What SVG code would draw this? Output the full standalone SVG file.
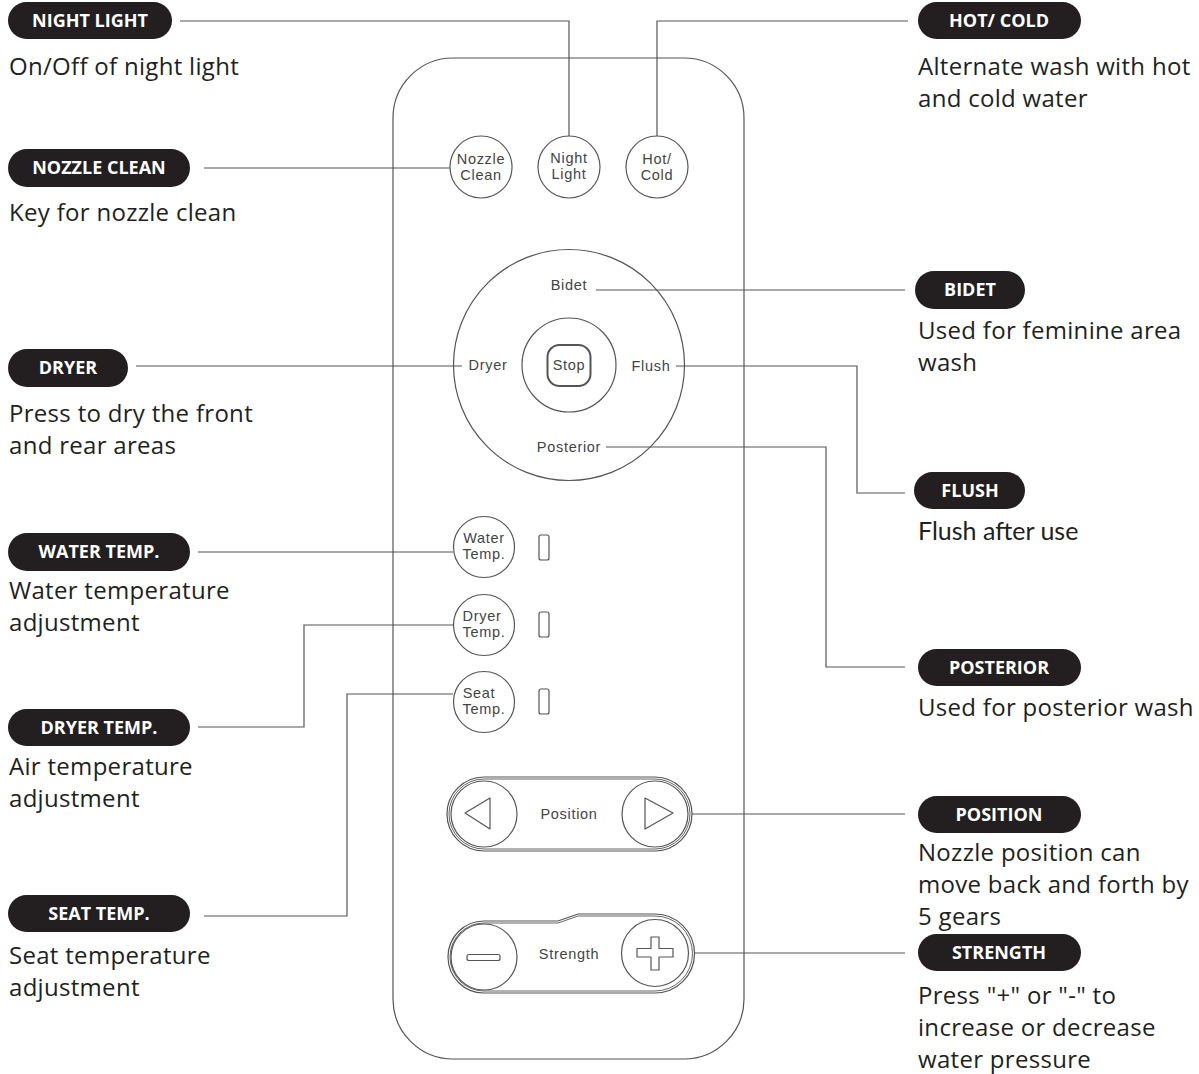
<svg xmlns="http://www.w3.org/2000/svg" width="1199" height="1074" viewBox="0 0 1199 1074">
<style>
.pill{fill:#231f20}
.lbl{font-family:"Open Sans","Liberation Sans",sans-serif;font-weight:bold;font-size:18px;fill:#fff;text-anchor:middle}
.desc{font-family:"Open Sans","Liberation Sans",sans-serif;font-size:24px;letter-spacing:0.3px;fill:#231f20}
.ln{fill:none;stroke:#555;stroke-width:1.2}
.thin{fill:none;stroke:#555;stroke-width:0.9}
.btn{fill:#fff;stroke:#555;stroke-width:1.2}
.bt{font-family:"Liberation Sans",Arial,sans-serif;font-size:14.5px;letter-spacing:0.7px;fill:#444;text-anchor:middle}
</style>
<rect width="1199" height="1074" fill="#fff"/>

<g id="remote">
<rect x="393" y="58" width="351" height="1001" rx="60" class="btn"/>
</g>

<g id="connectors">
<polyline class="ln" points="180,21 569,21 569,137"/>
<polyline class="ln" points="908,21 657,21 657,137"/>
<polyline class="ln" points="204,168 450,168"/>
<polyline class="ln" points="596,290 905,290"/>
<polyline class="ln" points="136,366 462,366"/>
<polyline class="ln" points="676,366 857,366 857,493 905,493"/>
<polyline class="ln" points="606,447 826,447 826,667 905,667"/>
<polyline class="ln" points="198,552 453,552"/>
<polyline class="ln" points="453,625 304,625 304,727 198,727"/>
<polyline class="ln" points="453,694 347,694 347,916 204,916"/>
<polyline class="ln" points="692,814 905,814"/>
<polyline class="ln" points="694,953 905,953"/>
</g>

<g id="btn-nozzle-clean">
<circle cx="481" cy="167" r="31" class="btn"/>
<text x="481" y="164" class="bt">Nozzle</text>
<text x="481" y="180" class="bt">Clean</text>
</g>
<g id="btn-night-light">
<circle cx="569" cy="167" r="31" class="btn"/>
<text x="569" y="163" class="bt">Night</text>
<text x="569" y="179" class="bt">Light</text>
</g>
<g id="btn-hot-cold">
<circle cx="657" cy="167" r="31" class="btn"/>
<text x="657" y="164" class="bt">Hot/</text>
<text x="657" y="180" class="bt">Cold</text>
</g>

<g id="dial">
<circle cx="569" cy="365" r="115.5" fill="none" stroke="#555" stroke-width="1.2"/>
<circle cx="569" cy="365" r="47" class="btn"/>
<rect x="547.5" y="345" width="43" height="41" rx="12" fill="none" stroke="#555" stroke-width="2"/>
<text x="569" y="370" class="bt">Stop</text>
<text x="569" y="290" class="bt">Bidet</text>
<text x="488" y="370" class="bt">Dryer</text>
<text x="651" y="371" class="bt">Flush</text>
<text x="569" y="452" class="bt">Posterior</text>
</g>

<g id="btn-water-temp">
<circle cx="484" cy="547" r="30.5" class="btn"/>
<text x="484" y="543" class="bt">Water</text>
<text x="484" y="559" class="bt">Temp.</text>
<rect x="539" y="535" width="10" height="25" rx="2" class="btn"/>
</g>
<g id="btn-dryer-temp">
<circle cx="484" cy="625" r="30.5" class="btn"/>
<text x="482" y="621" class="bt">Dryer</text>
<text x="484" y="637" class="bt">Temp.</text>
<rect x="539" y="612" width="10" height="25" rx="2" class="btn"/>
</g>
<g id="btn-seat-temp">
<circle cx="484" cy="702" r="30.5" class="btn"/>
<text x="479" y="698" class="bt">Seat</text>
<text x="484" y="714" class="bt">Temp.</text>
<rect x="539" y="689" width="10" height="25" rx="2" class="btn"/>
</g>

<g id="btn-position">
<path class="btn" d="M484,777 L655,777 A37,37 0 0 1 655,851 L484,851 A37,37 0 0 1 484,777 Z"/>
<path class="thin" d="M484,779 L655,779 A35,35 0 0 1 655,849 L484,849 A35,35 0 0 1 484,779 Z"/>
<circle cx="484" cy="814" r="33" class="btn"/>
<circle cx="655" cy="814" r="33" class="btn"/>
<path class="ln" stroke-linejoin="round" d="M465,813 L490,798 L490,829 Z"/>
<path class="ln" stroke-linejoin="round" d="M645,798 L673,813 L645,829 Z"/>
<text x="569" y="819" class="bt">Position</text>
</g>

<g id="btn-strength">
<path class="btn" d="M484,921 L558,921 L578,914 L655,914 A39.5,39.5 0 0 1 655,993 L484,993 A36,36 0 0 1 484,921 Z"/>
<path class="thin" d="M484,923 L558,923 L578,916 L655,916 A37.5,37.5 0 0 1 655,991 L484,991 A34,34 0 0 1 484,923 Z"/>
<circle cx="484" cy="957" r="33" class="btn"/>
<circle cx="655" cy="953" r="33.5" class="btn"/>
<rect x="467" y="954.5" width="33" height="6" rx="2" class="ln"/>
<path class="ln" stroke-linejoin="round" d="M651,937 L659,937 L659,948.5 L673,948.5 L673,957 L659,957 L659,970 L651,970 L651,957 L637,957 L637,948.5 L651,948.5 Z"/>
<text x="569" y="959" class="bt">Strength</text>
</g>

<g id="label-night-light">
<rect x="8" y="2" width="164" height="37" rx="18.5" class="pill"/>
<text x="90" y="27" class="lbl">NIGHT LIGHT</text>
<text x="9" y="75" class="desc">On/Off of night light</text>
</g>
<g id="label-hot-cold">
<rect x="918" y="2" width="163" height="37" rx="18.5" class="pill"/>
<text x="999" y="27" class="lbl">HOT/ COLD</text>
<text x="918" y="75" class="desc">Alternate wash with hot</text>
<text x="918" y="107" class="desc">and cold water</text>
</g>
<g id="label-nozzle-clean">
<rect x="8" y="149" width="182" height="38" rx="19" class="pill"/>
<text x="99" y="174" class="lbl">NOZZLE CLEAN</text>
<text x="9" y="221" class="desc">Key for nozzle clean</text>
</g>
<g id="label-bidet">
<rect x="915" y="271" width="110" height="38" rx="19" class="pill"/>
<text x="970" y="296" class="lbl">BIDET</text>
<text x="918" y="339" class="desc">Used for feminine area</text>
<text x="918" y="371" class="desc">wash</text>
</g>
<g id="label-dryer">
<rect x="8" y="349" width="120" height="38" rx="19" class="pill"/>
<text x="68" y="374" class="lbl">DRYER</text>
<text x="9" y="422" class="desc">Press to dry the front</text>
<text x="9" y="454" class="desc">and rear areas</text>
</g>
<g id="label-flush">
<rect x="914" y="472" width="111" height="37" rx="18.5" class="pill"/>
<text x="970" y="497" class="lbl">FLUSH</text>
<text x="918" y="540" font-family="Lato,'Noto Sans',sans-serif" font-size="25" fill="#231f20">Flush after use</text>
</g>
<g id="label-water-temp">
<rect x="8" y="533" width="182" height="38" rx="19" class="pill"/>
<text x="99" y="558" class="lbl">WATER TEMP.</text>
<text x="9" y="599" class="desc">Water temperature</text>
<text x="9" y="631" class="desc">adjustment</text>
</g>
<g id="label-posterior">
<rect x="918" y="649" width="163" height="37" rx="18.5" class="pill"/>
<text x="999" y="674" class="lbl">POSTERIOR</text>
<text x="918" y="716" class="desc">Used for posterior wash</text>
</g>
<g id="label-dryer-temp">
<rect x="8" y="709" width="182" height="37" rx="18.5" class="pill"/>
<text x="99" y="734" class="lbl">DRYER TEMP.</text>
<text x="9" y="775" class="desc">Air temperature</text>
<text x="9" y="807" class="desc">adjustment</text>
</g>
<g id="label-position">
<rect x="918" y="796" width="163" height="37" rx="18.5" class="pill"/>
<text x="999" y="821" class="lbl">POSITION</text>
<text x="918" y="861" class="desc">Nozzle position can</text>
<text x="918" y="893" class="desc">move back and forth by</text>
<text x="918" y="925" class="desc">5 gears</text>
</g>
<g id="label-seat-temp">
<rect x="8" y="895" width="182" height="37" rx="18.5" class="pill"/>
<text x="99" y="920" class="lbl">SEAT TEMP.</text>
<text x="9" y="964" class="desc">Seat temperature</text>
<text x="9" y="996" class="desc">adjustment</text>
</g>
<g id="label-strength">
<rect x="918" y="934" width="163" height="37" rx="18.5" class="pill"/>
<text x="999" y="959" class="lbl">STRENGTH</text>
<text x="918" y="1004" class="desc">Press "+" or "-" to</text>
<text x="918" y="1036" class="desc">increase or decrease</text>
<text x="918" y="1068" class="desc">water pressure</text>
</g>
</svg>
